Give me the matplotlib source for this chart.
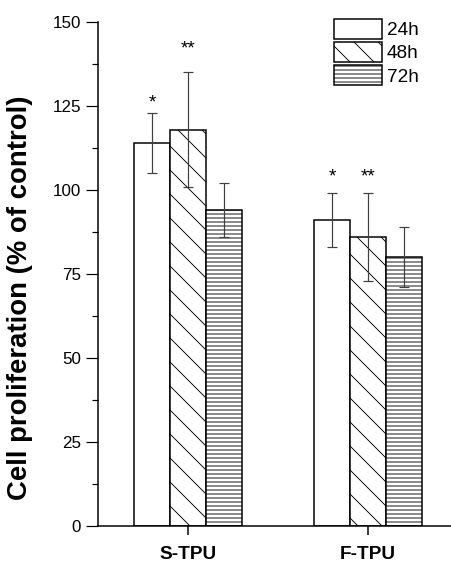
import numpy as np
import matplotlib
matplotlib.use("Agg")
import matplotlib.pyplot as plt
from matplotlib.ticker import MultipleLocator

# data
groups = ["S-TPU", "F-TPU"]
series = ["24h", "48h", "72h"]
values = {
    "24h": [114, 91],
    "48h": [118, 86],
    "72h": [94, 80],
}
errors = {
    "24h": [9, 8],
    "48h": [17, 13],
    "72h": [8, 9],
}
hatches = ["", "\\", "---"]
# significance marks: (group index, series, label, y)
stars = [
    (0, "24h", "*", 126),
    (0, "48h", "**", 142),
    (1, "24h", "*", 104),
    (1, "48h", "**", 104),
]

plt.rcParams.update({
    "font.family": ["Liberation Sans", "DejaVu Sans"],
    "hatch.linewidth": 0.9,
    "axes.linewidth": 1.5,
})

DPI = 72
fig = plt.figure(figsize=(451 / DPI, 563 / DPI), dpi=DPI)
ax = fig.add_axes([98 / 451, 37 / 563, (451 - 98) / 451, 504 / 563])

x = np.arange(1, len(groups) + 1)
width = 0.2
for i, s in enumerate(series):
    pos = x + (i - 1) * width
    ax.bar(pos, values[s], width, color="white", edgecolor="black",
           linewidth=1.5, hatch=hatches[i], label=s, zorder=2)
    ax.errorbar(pos, values[s], yerr=errors[s], fmt="none", ecolor="#404040",
                elinewidth=1.2, capsize=5, capthick=1.2, zorder=3)

for gi, s, lab, yv in stars:
    pos = x[gi] + (series.index(s) - 1) * width
    ax.text(pos, yv, lab, ha="center", va="center", fontsize=19)

ax.set_xlim(0.5, 2.461)
ax.set_ylim(0, 150)
ax.set_xticks(x)
ax.set_xticklabels(groups, fontsize=19, fontweight="bold")
ax.yaxis.set_major_locator(MultipleLocator(25))
ax.yaxis.set_minor_locator(MultipleLocator(12.5))
ax.tick_params(axis="y", which="major", direction="out", length=12, width=1.2,
               labelsize=17, pad=5)
ax.tick_params(axis="y", which="minor", direction="out", length=6, width=1.2)
ax.tick_params(axis="x", which="major", direction="out", length=9, width=1.5,
               pad=11)
ax.spines["top"].set_visible(False)
ax.spines["right"].set_visible(False)
ax.set_ylabel("Cell proliferation (% of control)", fontsize=27.5,
              fontweight="bold")
ax.yaxis.set_label_coords(-0.184, 0.452)

ax.legend(loc="upper left", bbox_to_anchor=(334 / 451, 1 - 19 / 563),
          bbox_transform=fig.transFigure, frameon=False, fontsize=19,
          handlelength=2.53, handleheight=1.21, labelspacing=0.16,
          handletextpad=0.26, borderpad=0, borderaxespad=0)

fig.savefig("out.png", dpi=DPI)
